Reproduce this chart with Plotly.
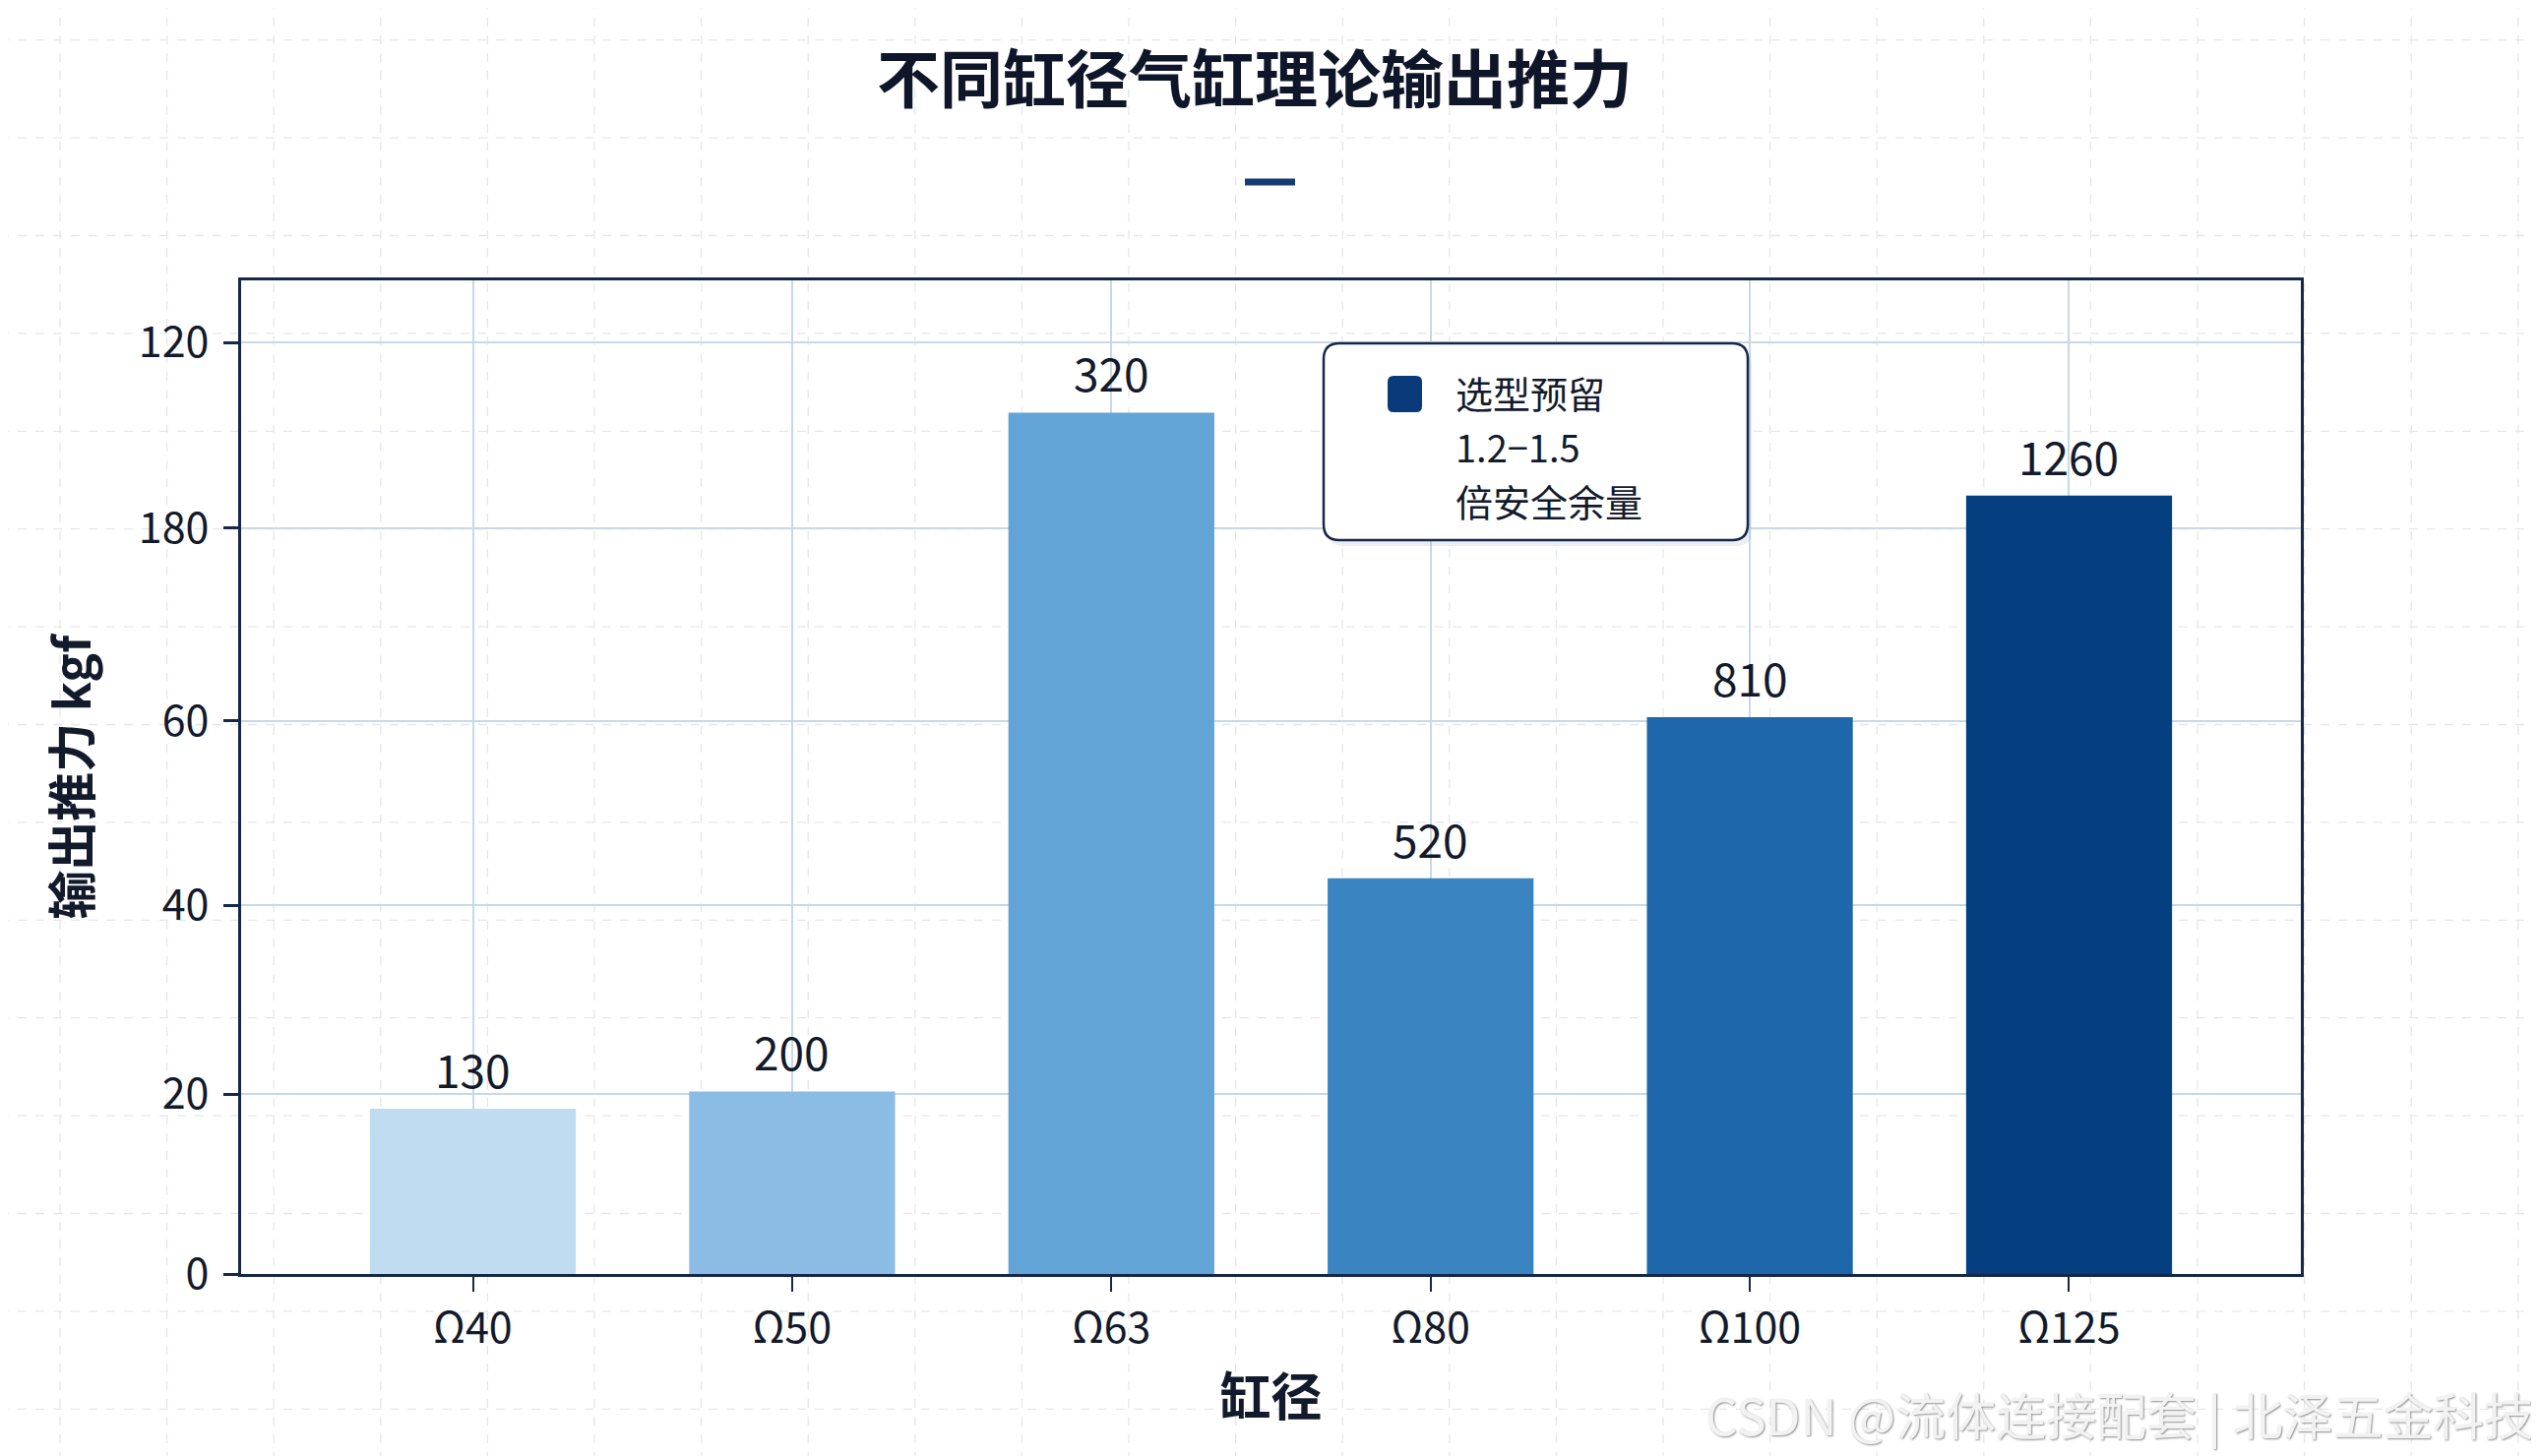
import plotly.graph_objects as go

# data
bore_sizes = ["Ω40", "Ω50", "Ω63", "Ω80", "Ω100", "Ω125"]
bar_heights = [17.75, 19.6, 92.5, 42.5, 59.8, 83.6]
bar_labels = ["130", "200", "320", "520", "810", "1260"]
y_tick_vals = [0, 19.3, 39.6, 59.4, 80.1, 100]
y_tick_text = ["0", "20", "40", "60", "180", "120"]
legend_lines = ["选型预留", "1.2−1.5", "倍安全余量"]

bar_colors = ["#c0dcf1", "#8bbde4", "#63a4d6", "#3a84c1", "#1d67aa", "#063f80"]
NAVY = "#16284a"
TEXT = "#121a2c"
FONT = "Noto Sans CJK SC"

# page geometry in screen pixels (page body adds an 8px offset)
W, H = 2580, 1480
OFF = 8
LEFT, RIGHT, TOP, BOTTOM = 245, 2338, 285, 1295
PW, PH = RIGHT - LEFT, BOTTOM - TOP
ML, MT = LEFT - OFF, TOP - OFF
MR, MB = W - ML - PW, H - MT - PH


def px_x(px):
    return (px - LEFT) / PW


def px_y(py):
    return (BOTTOM - py) / PH


def rounded_rect(x0, y0, x1, y1, r):
    # path in paper coords for a rounded box given in screen pixels
    rx, ry = r / PW, r / PH
    a, b, c, d = px_x(x0), px_x(x1), px_y(y0), px_y(y1)  # c top, d bottom
    return (f"M {a + rx},{c} L {b - rx},{c} Q {b},{c} {b},{c - ry} "
            f"L {b},{d + ry} Q {b},{d} {b - rx},{d} "
            f"L {a + rx},{d} Q {a},{d} {a},{d + ry} "
            f"L {a},{c - ry} Q {a},{c} {a + rx},{c} Z")


fig = go.Figure()

fig.add_trace(go.Bar(
    x=bore_sizes,
    y=bar_heights,
    width=0.645,
    marker=dict(color=bar_colors, line=dict(width=0)),
    showlegend=False,
    hoverinfo="x+y",
))

# value labels above the bars
for cat, h, lab in zip(bore_sizes, bar_heights, bar_labels):
    fig.add_annotation(
        x=cat, y=h, text=lab, showarrow=False,
        yanchor="bottom", yshift=6,
        font=dict(family=FONT, size=46, color=TEXT),
    )

shapes = []

# faint dashed page grid in the background
gx = 61.0
while gx < W:
    shapes.append(dict(type="line", xref="paper", yref="paper",
                       x0=px_x(gx), x1=px_x(gx), y0=px_y(0), y1=px_y(H),
                       line=dict(color="#e3e7ed", width=1.3, dash="dash"),
                       layer="below"))
    gx += 108.6
gy = 40.7
while gy < H:
    shapes.append(dict(type="line", xref="paper", yref="paper",
                       x0=px_x(0), x1=px_x(W), y0=px_y(gy), y1=px_y(gy),
                       line=dict(color="#e3e7ed", width=1.3, dash="dash"),
                       layer="below"))
    gy += 99.4

# short accent bar under the title
shapes.append(dict(type="line", xref="paper", yref="paper",
                   x0=px_x(1265), x1=px_x(1316), y0=px_y(185), y1=px_y(185),
                   line=dict(color="#123c72", width=7)))

# legend box
shapes.append(dict(type="path", xref="paper", yref="paper",
                   path=rounded_rect(1349, 354, 1780, 555, 16),
                   fillcolor="rgba(90,120,160,0.12)", line=dict(width=0),
                   layer="above"))
shapes.append(dict(type="path", xref="paper", yref="paper",
                   path=rounded_rect(1345, 349, 1776, 549, 16),
                   fillcolor="white", line=dict(color=NAVY, width=2.5),
                   layer="above"))
shapes.append(dict(type="path", xref="paper", yref="paper",
                   path=rounded_rect(1410, 382, 1445, 419, 6),
                   fillcolor="#0b3a7a", line=dict(width=0),
                   layer="above"))

for i, line_text in enumerate(legend_lines):
    fig.add_annotation(
        xref="paper", yref="paper", x=px_x(1478), y=px_y(398 + 55 * i),
        xanchor="left", yanchor="middle", align="left", showarrow=False,
        borderpad=0,
        text=line_text,
        font=dict(family=FONT, size=38, color=TEXT),
    )

# watermark
fig.add_annotation(
    xref="paper", yref="paper", x=px_x(2577), y=px_y(1437),
    xanchor="right", yanchor="middle", showarrow=False,
    text="CSDN @流体连接配套 | 北泽五金科技",
    font=dict(family=FONT, size=51, color="#f2f2f2",
              shadow="1px 1px 2px #8f8f8f"),
)

fig.update_layout(
    width=W, height=H, autosize=False,
    margin=dict(l=ML, r=MR, t=MT, b=MB, pad=0),
    paper_bgcolor="white",
    plot_bgcolor="rgba(0,0,0,0)",
    font=dict(family=FONT, color=TEXT),
    title=dict(
        text="不同缸径气缸理论输出推力",
        x=(1275 - OFF) / W, y=1 - (82 - OFF) / H,
        xanchor="center", yanchor="middle",
        font=dict(family=FONT, size=64, color="#0f1629", weight="bold"),
    ),
    shapes=shapes,
)

fig.update_xaxes(
    type="category",
    range=[-0.726, 5.726],
    showgrid=True, gridcolor="#c7d9e8", gridwidth=1.5,
    showline=True, linecolor=NAVY, linewidth=3, mirror=True,
    ticks="outside", ticklen=15, tickwidth=2, tickcolor=NAVY,
    tickfont=dict(family=FONT, size=43, color=TEXT),
    title=dict(text="缸径", standoff=28,
               font=dict(family=FONT, size=52, color=TEXT, weight="bold")),
)

fig.update_yaxes(
    range=[0, 106.7],
    tickmode="array", tickvals=y_tick_vals, ticktext=y_tick_text,
    showgrid=True, gridcolor="#c7d9e8", gridwidth=1.5,
    zeroline=False,
    showline=True, linecolor=NAVY, linewidth=3, mirror=True,
    ticks="outside", ticklen=15, tickwidth=2.5, tickcolor=NAVY,
    ticklabelstandoff=6,
    tickfont=dict(family=FONT, size=43, color=TEXT),
    title=dict(text="输出推力 kgf", standoff=33,
               font=dict(family=FONT, size=50, color=TEXT, weight="bold")),
)

fig.write_html("out.html")
